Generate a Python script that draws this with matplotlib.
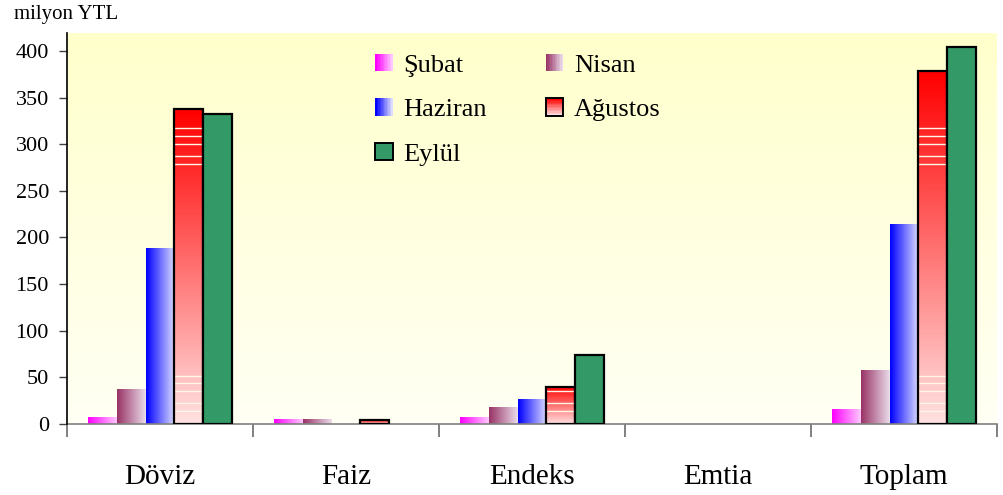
import numpy as np
import matplotlib
matplotlib.use("Agg")
import matplotlib.pyplot as plt
from matplotlib.colors import LinearSegmentedColormap
from matplotlib.patches import Rectangle
from matplotlib.legend_handler import HandlerBase

# ---- data -------------------------------------------------------------
categories = ["Döviz", "Faiz", "Endeks", "Emtia", "Toplam"]
series_names = ["Şubat", "Nisan", "Haziran", "Ağustos", "Eylül"]
subat = [8, 5, 7, 0, 16]
nisan = [38, 5, 18, 0, 58]
haziran = [189, 0, 27, 0, 214]
agustos = [338, 4, 40, 0, 379]
eylul = [332, 0, 74, 0, 404]
y_ticks = [0, 50, 100, 150, 200, 250, 300, 350, 400]
y_label = "milyon YTL"

# ---- styles -----------------------------------------------------------
# (kind, start colour, end colour, edge colour)
styles = {
    "Şubat":   ("h", "#FF00FF", "#FFC8FF", None),
    "Nisan":   ("h", "#993366", "#EADCEA", None),
    "Haziran": ("h", "#0000FF", "#DCDCFF", None),
    "Ağustos": ("v", "#FF0000", "#FFE0E0", "black"),
    "Eylül":   ("s", "#339966", "#339966", "black"),
}
band_levels = [13.6, 22, 35, 43.6, 52, 278.5, 287, 300, 308.5, 317]

serif = ["Liberation Serif", "DejaVu Serif"]
plt.rcParams["font.family"] = serif

fig = plt.figure(figsize=(10.04, 4.95), dpi=100)
ax = fig.add_axes([67 / 1004, 1 - 424 / 495, 930 / 1004, 391 / 495])
ymax = 419.3
ax.set_xlim(-0.5, len(categories) - 0.5)
ax.set_ylim(0, ymax)

# background: pale yellow fading to near white
bg = np.linspace(0, 1, 256).reshape(-1, 1)
bg_cmap = LinearSegmentedColormap.from_list("bg", ["#FFFFF4", "#FFFFCC"])
ax.imshow(bg, extent=[0, 1, 0, 1], transform=ax.transAxes, cmap=bg_cmap,
          aspect="auto", origin="lower", zorder=0)

width = 0.155
x = np.arange(len(categories))
all_values = [subat, nisan, haziran, agustos, eylul]

for k, (name, vals) in enumerate(zip(series_names, all_values)):
    kind, c0, c1, edge = styles[name]
    offs = (k - 2) * width
    if kind == "s":
        bars = ax.bar(x + offs, vals, width, color=c0,
                      edgecolor=[edge if v > 0 else "none" for v in vals],
                      linewidth=1.6, zorder=3)
        continue
    bars = ax.bar(x + offs, vals, width, facecolor="none",
                  edgecolor=[(edge if (edge and v > 0) else "none") for v in vals],
                  linewidth=1.6, zorder=3)
    cmap = LinearSegmentedColormap.from_list(name, [c0, c1])
    for bar, v in zip(bars, vals):
        if v <= 0:
            continue
        x0 = bar.get_x()
        x1 = x0 + bar.get_width()
        if kind == "h":
            grad = np.linspace(0, 1, 64).reshape(1, -1)
        else:
            grad = np.linspace(1, 0, 64).reshape(-1, 1)
        im = ax.imshow(grad, extent=[x0, x1, 0, v], cmap=cmap, aspect="auto",
                       origin="lower", zorder=2, interpolation="bilinear")
        im.set_clip_path(bar)
        if name == "Ağustos":
            lv = [b for b in band_levels if b < v - 1]
            if lv:
                ln = ax.hlines(lv, x0, x1, colors="#FFF6E6", linewidth=1.0,
                               zorder=2.5)
                ln.set_clip_path(bar)

ax.set_xlim(-0.5, len(categories) - 0.5)
ax.set_ylim(0, ymax)

# axes and ticks
for side in ("top", "right"):
    ax.spines[side].set_visible(False)
ax.spines["left"].set_color("black")
ax.spines["left"].set_linewidth(1.2)
ax.spines["bottom"].set_color("#808080")
ax.spines["bottom"].set_linewidth(1.2)
ax.spines["left"].set_zorder(4)

ax.set_yticks(y_ticks)
ax.set_yticklabels([str(t) for t in y_ticks], fontsize=16)
ax.tick_params(axis="y", direction="out", length=6, width=1, color="#404040",
               pad=7)
ax.set_xticks(x)
ax.set_xticklabels(categories, fontsize=21)
ax.set_xticks(np.arange(-0.5, len(categories)), minor=True)
ax.tick_params(axis="x", which="major", length=0, pad=29)
ax.tick_params(axis="x", which="minor", direction="out", length=9, width=1.4,
               color="#808080")

fig.text(14 / 1004, 1 - 19 / 495, y_label, fontsize=15, ha="left",
         va="baseline")


# ---- legend -----------------------------------------------------------
class GradientHandler(HandlerBase):
    def __init__(self, kind, c0, c1, edge):
        super().__init__()
        self.kind, self.c0, self.c1, self.edge = kind, c0, c1, edge

    def create_artists(self, legend, orig_handle, xdescent, ydescent, width,
                       height, fontsize, trans):
        side = min(width, height * 1.0)
        x0 = -xdescent + (width - side) / 2
        y0 = -ydescent + (height - side) / 2
        arts = []
        if self.kind == "s":
            arts.append(Rectangle((x0, y0), side, side, facecolor=self.c0,
                                  edgecolor="none", transform=trans))
        else:
            cmap = LinearSegmentedColormap.from_list("lg", [self.c0, self.c1])
            n = 12
            for i in range(n):
                t = i / (n - 1)
                if self.kind == "h":
                    r = Rectangle((x0 + side * i / n, y0), side / n * 1.05, side,
                                  facecolor=cmap(t), edgecolor="none",
                                  transform=trans)
                else:
                    r = Rectangle((x0, y0 + side * (n - 1 - i) / n), side,
                                  side / n * 1.05, facecolor=cmap(t),
                                  edgecolor="none", transform=trans)
                arts.append(r)
        if self.edge:
            arts.append(Rectangle((x0, y0), side, side, facecolor="none",
                                  edgecolor=self.edge, linewidth=1.4,
                                  transform=trans))
        return arts


order = ["Şubat", "Haziran", "Eylül", "Nisan", "Ağustos"]
handles = [Rectangle((0, 0), 1, 1, label=n) for n in order]
hmap = {h: GradientHandler(*styles[h.get_label()]) for h in handles}
ax.legend(handles=handles, labels=order, handler_map=hmap, ncol=2,
          frameon=False, fontsize=19, loc="upper left",
          bbox_to_anchor=(290 / 930, 1 - 2 / 391), handlelength=0.65,
          handleheight=0.65, handletextpad=0.4, columnspacing=2.25,
          labelspacing=0.82, borderaxespad=0.3)

fig.savefig("out.png", dpi=100, facecolor="white")
